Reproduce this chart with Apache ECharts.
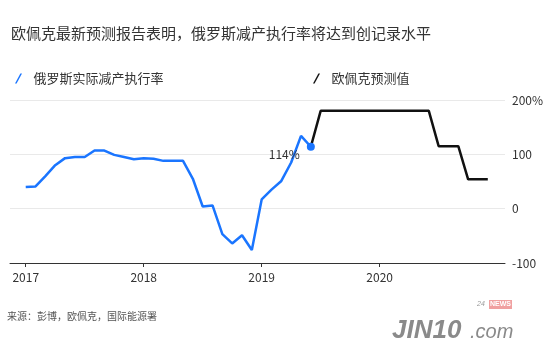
<!DOCTYPE html>
<html>
<head>
<meta charset="utf-8">
<script src="https://cdn.jsdelivr.net/npm/echarts@6/dist/echarts.min.js"></script>
<style>
  html, body { margin: 0; padding: 0; background: #fff; }
  #chart { width: 550px; height: 353px; }
</style>
</head>
<body>
<div id="chart"></div>
<script>
// month index: 0 = Jan 2017
const years = ['2017', '2018', '2019', '2020']
const yearTicks = [0, 12, 24, 36]
const yTicks = [-100, 0, 100, 200]

// Russia actual compliance, Jan 2017 - Jun 2019
const actualValues = [
  40, 41, 60, 80, 93, 95, 95, 107, 107, 99, 95, 91,
  93, 92, 88, 88, 88, 55, 4, 6, -47, -64, -49, -76,
  17, 35, 51, 85, 134, 114
]
const actualStart = 0

// OPEC forecast, Jun 2019 - Dec 2020
const forecastValues = [
  114, 180, 180, 180, 180, 180, 180, 180, 180, 180, 180, 180, 180,
  115, 115, 115, 54, 54, 54
]
const forecastStart = 29

const toPairs = (vals, start) => vals.map((v, i) => [start + i, v])

const chart = echarts.init(document.getElementById('chart'))
const font = '"Noto Sans CJK SC", "Noto Sans", sans-serif'
const blue = '#1a75ff'

const actualData = toPairs(actualValues, actualStart)
const lastIdx = actualData.length - 1
actualData[lastIdx] = {
  value: actualData[lastIdx],
  symbol: 'circle',
  symbolSize: 8,
  label: {
    show: true,
    position: 'left',
    distance: 7,
    offset: [0, 8],
    formatter: '{@[1]}%',
    color: '#333',
    fontSize: 12,
    fontFamily: font
  }
}

const slash = 'path://M0,10 L1.6,10 L7,0 L5.4,0 Z'

chart.setOption({
  animation: false,
  textStyle: { fontFamily: font },
  title: {
    text: '欧佩克最新预测报告表明，俄罗斯减产执行率将达到创记录水平',
    left: 6,
    top: 21,
    textStyle: { fontSize: 15, fontWeight: 'normal', color: '#333', fontFamily: font }
  },
  legend: [
    {
      data: [{ name: '俄罗斯实际减产执行率', icon: slash }],
      left: 10, top: 67,
      itemWidth: 8, itemHeight: 10, itemGap: 10,
      textStyle: { fontSize: 13, color: '#333', fontFamily: font, padding: [0, 0, 0, 6] }
    },
    {
      data: [{ name: '欧佩克预测值', icon: slash }],
      left: 308, top: 67,
      itemWidth: 8, itemHeight: 10,
      textStyle: { fontSize: 13, color: '#333', fontFamily: font, padding: [0, 0, 0, 6] }
    }
  ],
  grid: { left: 10, right: 45, top: 100, bottom: 90 },
  xAxis: {
    type: 'value',
    min: -1.6,
    max: 48.75,
    splitLine: { show: false },
    axisLine: { show: true, onZero: false, lineStyle: { color: '#333', width: 1 } },
    axisTick: { show: true, length: 4, customValues: yearTicks, lineStyle: { color: '#333' } },
    axisLabel: {
      customValues: yearTicks,
      formatter: v => years[yearTicks.indexOf(v)],
      color: '#333', fontSize: 12, margin: 8
    }
  },
  yAxis: {
    type: 'value',
    position: 'right',
    min: -100,
    max: 200,
    interval: 100,
    axisLine: { show: false },
    axisTick: { show: false },
    axisLabel: {
      formatter: v => (v === 200 ? '200%' : String(v)),
      color: '#333', fontSize: 12, margin: 7
    },
    splitLine: { lineStyle: { color: '#e9e9e9', width: 1 } }
  },
  series: [
    {
      name: '俄罗斯实际减产执行率',
      type: 'line',
      data: actualData,
      showSymbol: true,
      symbol: 'none',
      itemStyle: { color: blue },
      lineStyle: { color: blue, width: 2.5 },
      z: 3
    },
    {
      name: '欧佩克预测值',
      type: 'line',
      data: toPairs(forecastValues, forecastStart),
      symbol: 'none',
      itemStyle: { color: '#111' },
      lineStyle: { color: '#111', width: 2.5 },
      z: 2
    }
  ],
  graphic: [
    {
      type: 'text', left: 7, top: 311,
      style: { text: '来源：彭博，欧佩克，国际能源署', fontSize: 10, fill: '#555', fontFamily: font }
    },
    {
      type: 'text', left: 392, top: 318,
      style: { text: 'JIN10', fontSize: 26, fontWeight: 'bold', fontStyle: 'italic', fill: '#8a8a8a', fontFamily: 'Liberation Sans Narrow, Liberation Sans' }
    },
    {
      type: 'text', left: 470, top: 322,
      style: { text: '.com', fontSize: 20, fontStyle: 'italic', fill: '#8a8a8a', fontFamily: 'Liberation Sans' }
    },
    {
      type: 'text', left: 477, top: 301,
      style: { text: '24', fontSize: 7, fontStyle: 'italic', fill: '#999', fontFamily: 'Liberation Sans' }
    },
    {
      type: 'text', left: 489, top: 300,
      style: {
        text: 'NEWS', fontSize: 7, fontWeight: 'bold', fill: '#fff',
        backgroundColor: '#f0a0a0', padding: [1, 1], fontFamily: 'Liberation Sans'
      }
    }
  ]
})
</script>
</body>
</html>
